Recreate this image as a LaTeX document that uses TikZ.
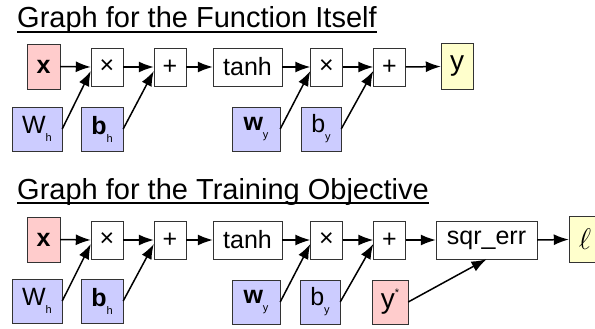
\documentclass[tikz,border=0pt]{standalone}
\usepackage{fontspec}
\setmainfont{Liberation Sans}
\usetikzlibrary{arrows.meta}
\definecolor{inred}{HTML}{FFCCCC}
\definecolor{parblue}{HTML}{CCCCFF}
\definecolor{outyellow}{HTML}{FFFFCC}
\definecolor{edgegray}{HTML}{333333}
\newcommand{\lowsub}[1]{\raisebox{-8pt}{\fontsize{11}{11}\selectfont #1}}
\newcommand{\highsup}[1]{\raisebox{12pt}{\fontsize{11}{11}\selectfont #1}}
\begin{document}
\begin{tikzpicture}[x=1pt, y=-1pt,
    op/.style={draw=edgegray, fill=white, minimum width=32pt, minimum height=38pt, inner sep=0pt, font=\fontsize{25}{25}\selectfont},
    inp/.style={op, fill=inred, minimum width=33pt, minimum height=45pt},
    par/.style={op, fill=parblue, minimum height=44pt},
    outp/.style={op, fill=outyellow, minimum height=46pt, font=\fontsize{28}{28}\selectfont},
    title/.style={anchor=base west, inner sep=0pt, font=\fontsize{29}{29}\selectfont},
    rule/.style={line width=1.3pt},
    flow/.style={-{Latex[length=15pt, width=11pt]}, line width=1.5pt}]
    \useasboundingbox (0,0) rectangle (595,329);
    % the function
    \node[title] (title1) at (17,28) {Graph for the Function Itself};
    \draw[rule] ([yshift=-4pt]title1.base west) -- ([yshift=-4pt]title1.base east);
    \node[inp] (x1) at (43.5,66.5) {\textbf{x}};
    \node[op] (mul1) at (107,67) {×};
    \node[op] (add1) at (170,67) {+};
    \node[op, minimum width=69pt] (tanh1) at (247.5,67) {tanh};
    \node[op] (mul2) at (326.5,67) {×};
    \node[op] (add2) at (389.5,67) {+};
    \node[outp] (y1) at (457,66.5) {y};
    \node[par, minimum width=50pt] (Wh1) at (37,129) {W\lowsub{h}};
    \node[par, minimum width=42pt] (bh1) at (102,129) {\textbf{b}\lowsub{h}};
    \node[par, minimum width=48pt] (wy1) at (256,129) {\textbf{w}\lowsub{y}};
    \node[par, minimum width=40pt] (by1) at (321,129) {b\lowsub{y}};
    \foreach \a/\b in {x1/mul1, mul1/add1, add1/tanh1, tanh1/mul2, mul2/add2, add2/y1}
        \draw[flow] (\a.east) -- (\b.west);
    \draw[flow] (Wh1.east) -- ([yshift=-4pt]mul1.west);
    \draw[flow] (bh1.east) -- ([yshift=-4pt]add1.west);
    \draw[flow] (wy1.east) -- ([yshift=-4pt]mul2.west);
    \draw[flow] (by1.east) -- ([yshift=-4pt]add2.west);
    % the training objective
    \node[title] (title2) at (17,199) {Graph for the Training Objective};
    \draw[rule] ([yshift=-4pt]title2.base west) -- ([yshift=-4pt]title2.base east);
    \node[inp] (x2) at (43.5,239.5) {\textbf{x}};
    \node[op] (mul3) at (107,240) {×};
    \node[op] (add3) at (170,240) {+};
    \node[op, minimum width=69pt] (tanh2) at (247.5,240) {tanh};
    \node[op] (mul4) at (326.5,240) {×};
    \node[op] (add4) at (389.5,240) {+};
    \node[op, minimum width=101pt] (sqr) at (486.5,240) {sqr\_err};
    \node[outp] (ell) at (585,239.5) {\scalebox{1.2}{$\ell$}};
    \node[par, minimum width=50pt] (Wh2) at (37,301) {W\lowsub{h}};
    \node[par, minimum width=42pt] (bh2) at (102,301) {\textbf{b}\lowsub{h}};
    \node[par, minimum width=48pt] (wy2) at (256,302) {\textbf{w}\lowsub{y}};
    \node[par, minimum width=40pt] (by2) at (320,302) {b\lowsub{y}};
    \node[op, fill=inred, minimum width=36pt, minimum height=44pt, font=\fontsize{28}{28}\selectfont] (ystar) at (390,302) {y\highsup{*}};
    \foreach \a/\b in {x2/mul3, mul3/add3, add3/tanh2, tanh2/mul4, mul4/add4, add4/sqr, sqr/ell}
        \draw[flow] (\a.east) -- (\b.west);
    \draw[flow] (Wh2.east) -- ([yshift=-4pt]mul3.west);
    \draw[flow] (bh2.east) -- ([yshift=-4pt]add3.west);
    \draw[flow] (wy2.east) -- ([yshift=-4pt]mul4.west);
    \draw[flow] (by2.east) -- ([yshift=-4pt]add4.west);
    \draw[flow] (ystar.east) -- (sqr.south);
\end{tikzpicture}
\end{document}
